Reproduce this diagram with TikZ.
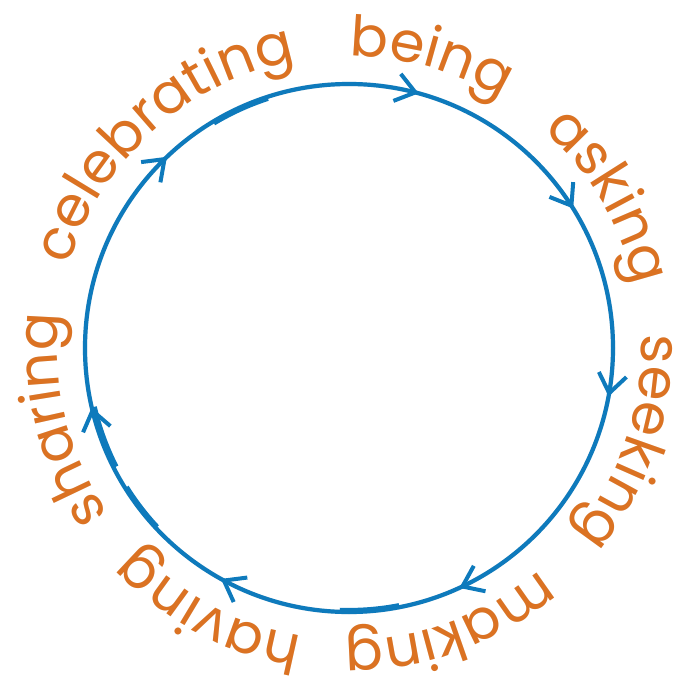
\documentclass[tikz,border=0pt]{standalone}
\usepackage{fontspec}
\newfontfamily\popfont{Poppins}
\usetikzlibrary{decorations.text,decorations.markings,arrows.meta}
\definecolor{ringblue}{RGB}{14,122,188}
\definecolor{wordorange}{RGB}{219,114,34}
\newcommand\wf{\popfont\fontsize{56}{60}\selectfont}
\newcommand\ringword[3]{%
  \path[decorate,decoration={text along path,text={|\wf|#2},text align=center,text color=#3}]
    (c) ++({#1+60}:292) arc[start angle={#1+60},end angle={#1-60},radius=292];}
\newcommand\allwords[1]{%
\ringword{74.2}{being}{#1}
\ringword{30.3}{asking}{#1}
\ringword{-18.5}{seeking}{#1}
\ringword{-70}{making}{#1}
\ringword{-118}{having}{#1}
\ringword{-166}{sharing}{#1}
\ringword{132}{celebrating}{#1}}
\begin{document}
\begin{tikzpicture}[x=1pt,y=1pt,
  ring/.style={line width=4.2pt,draw=ringblue},
  ringshadow/.style={line width=4.5pt,draw=black!7},
  barbtip/.tip={Straight Barb[length=19pt,width=28pt,line width=4pt]}]
\useasboundingbox (0,0) rectangle (677,-688);
\coordinate (c) at (349,-348);
% soft shadows
\begin{scope}[shift={(2.5,-3.5)}]
  \draw[ringshadow] (c) circle[radius=264];
  \allwords{black!9}
\end{scope}
\draw[ring,postaction={decorate},decoration={markings,
   mark=at position 0.1289 with {\arrow{barbtip}},
   mark=at position 0.2925 with {\arrow{barbtip}},
   mark=at position 0.4114 with {\arrow{barbtip}},
   mark=at position 0.5294 with {\arrow{barbtip}},
   mark=at position 0.6814 with {\arrow{barbtip}},
   mark=at position 0.8306 with {\arrow{barbtip}},
   mark=at position 0.9639 with {\arrow{barbtip}}}]
  (c) ++(180:264) arc[start angle=180,end angle=-180,radius=264];
% slight overlapping segments
\draw[ring] (c) ++(121:262) arc[start angle=121,end angle=108,radius=262];
\draw[ring] (c) ++(-79:262) arc[start angle=-79,end angle=-92,radius=262];
\draw[ring] (c) ++(-137:262) arc[start angle=-137,end angle=-148,radius=262];
\draw[ring] (c) ++(-153:261) arc[start angle=-153,end angle=-167,radius=261];
\allwords{wordorange}
\end{tikzpicture}
\end{document}
